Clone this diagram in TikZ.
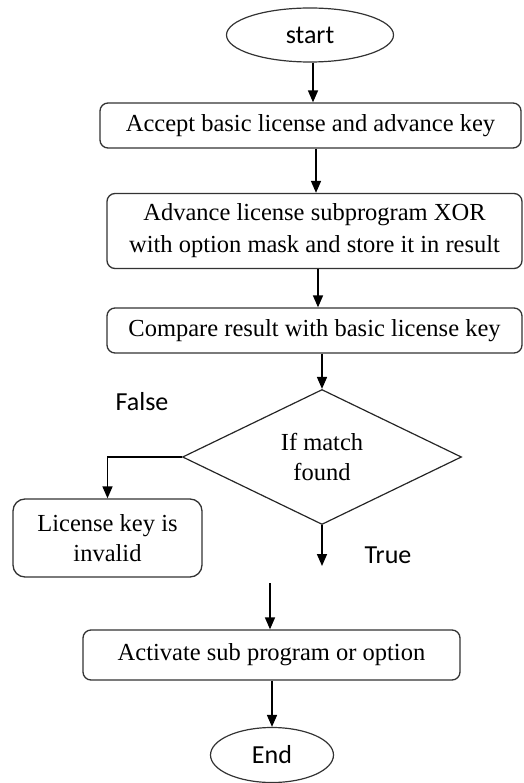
\documentclass[tikz,border=0pt]{standalone}
\usepackage{fontspec}
\setmainfont{Liberation Serif}
\newfontfamily\calib{Carlito}
\usepackage{tikz}
\usetikzlibrary{arrows.meta,shapes,positioning}

\begin{document}
\begin{tikzpicture}[x=1pt, y=-1pt]
% STYLES
\tikzset{
    ellips/.style={ellipse, draw=black!80, line width=1.2pt, inner sep=0pt,
    font=\calib\fontsize{26}{29}\selectfont},
    boxx/.style={rectangle, draw=black!80, line width=1.3pt, rounded corners=8pt,
    align=center, inner sep=0pt, font=\fontsize{24.5}{32}\selectfont},
    decide/.style={diamond, draw=black!85, line width=1.2pt, aspect=2, inner sep=0pt,
    align=center, font=\fontsize{24.5}{30}\selectfont},
    arr/.style={-{Triangle[length=12pt,width=10pt]}, line width=1.6pt},
    lbl/.style={font=\calib\fontsize{26}{29}\selectfont}
}
\useasboundingbox (0,0) rectangle (523,783);

\node [ellips, minimum width=167pt, minimum height=54pt] (start) at (310,35) {start};
\node [boxx, minimum width=421pt, minimum height=45pt] (accept) at (310.5,125.5)
   {Accept basic license and advance key};
\node [boxx, minimum width=415pt, minimum height=75pt] (xorstep) at (314.5,231)
   {Advance license subprogram XOR\\with option mask and store it in result};
\node [boxx, minimum width=415pt, minimum height=45pt] (compare) at (314.5,330.5)
   {Compare result with basic license key};
\node [decide, minimum width=279pt, minimum height=135pt] (match) at (322,457)
   {If match\\found};
\node [boxx, rounded corners=12pt, minimum width=189pt, minimum height=78pt,
   font=\fontsize{24.5}{30}\selectfont] (invalid) at (107.5,538)
   {License key is\\invalid};
\node [boxx, minimum width=377pt, minimum height=50pt] (activate) at (271.5,655)
   {Activate sub program or option};
\node [ellips, minimum width=123pt, minimum height=55pt] (finish) at (272,755) {End};

\node [lbl] (falselbl) at (142,402) {False};
\node [lbl] (truelbl) at (388,555) {True};

\coordinate (trueend) at (322,566);
\coordinate (gostart) at (270,583);

% Draw the links
\draw[arr] (start.south -| 313,0) -- (accept.north -| 313,0);
\draw[arr] (accept.south -| 316,0) -- (xorstep.north -| 316,0);
\draw[arr] (xorstep.south -| 318,0) -- (compare.north -| 318,0);
\draw[arr] (compare.south -| match.north) -- (match.north);
\draw[arr] (match.west) -| (invalid.north);
\draw[arr] (match.south) -- (trueend);
\draw[arr] (gostart) -- (activate.north -| gostart);
\draw[arr] (activate.south -| finish.north) -- (finish.north);
\end{tikzpicture}
\end{document}
